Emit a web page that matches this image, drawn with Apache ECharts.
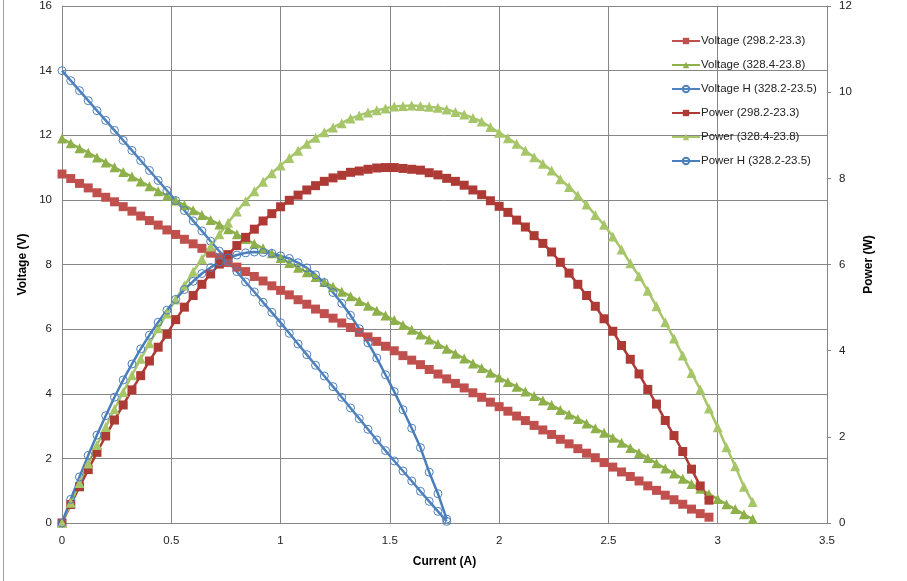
<!DOCTYPE html>
<html>
<head>
<meta charset="utf-8">
<script src="https://cdn.jsdelivr.net/npm/echarts@6/dist/echarts.min.js"></script>
<style>
html,body{margin:0;padding:0;background:#fff;}
#chart{width:907px;height:581px;}
</style>
</head>
<body>
<div id="chart"></div>
<script>
// ---- Data ----
var currentA = [0,0.04,0.08,0.12,0.16,0.20,0.24,0.28,0.32,0.36,0.40,0.44,0.48,0.52,0.56,0.60,0.64,0.68,0.72,0.76,0.80,0.84,0.88,0.92,0.96,1.00,1.04,1.08,1.12,1.16,1.20,1.24,1.28,1.32,1.36,1.40,1.44,1.48,1.52,1.56,1.60,1.64,1.68,1.72,1.76,1.80,1.84,1.88,1.92,1.96,2.00,2.04,2.08,2.12,2.16,2.20,2.24,2.28,2.32,2.36,2.40,2.44,2.48,2.52,2.56,2.60,2.64,2.68,2.72,2.76,2.80,2.84,2.88,2.92,2.96];
var voltageA = [10.80,10.66,10.51,10.37,10.22,10.08,9.94,9.79,9.65,9.50,9.36,9.22,9.07,8.93,8.78,8.64,8.50,8.35,8.21,8.06,7.92,7.78,7.63,7.49,7.34,7.20,7.06,6.91,6.77,6.62,6.48,6.34,6.19,6.05,5.90,5.76,5.62,5.47,5.33,5.18,5.04,4.90,4.75,4.61,4.46,4.32,4.18,4.03,3.89,3.74,3.60,3.46,3.31,3.17,3.02,2.88,2.74,2.59,2.45,2.30,2.16,2.02,1.87,1.73,1.58,1.44,1.30,1.15,1.01,0.86,0.72,0.58,0.43,0.29,0.18];
var powerA = [0,0.43,0.84,1.24,1.64,2.02,2.39,2.74,3.09,3.42,3.76,4.08,4.38,4.72,5.01,5.28,5.54,5.78,6.01,6.23,6.44,6.63,6.82,7.01,7.18,7.34,7.49,7.61,7.73,7.83,7.93,8.01,8.07,8.14,8.17,8.21,8.24,8.25,8.25,8.23,8.21,8.19,8.13,8.08,8.00,7.93,7.84,7.73,7.62,7.48,7.35,7.21,7.03,6.87,6.67,6.49,6.29,6.05,5.80,5.54,5.28,5.03,4.74,4.45,4.12,3.80,3.46,3.10,2.76,2.38,2.03,1.66,1.25,0.86,0.53];

var currentB = [0,0.04,0.08,0.12,0.16,0.20,0.24,0.28,0.32,0.36,0.40,0.44,0.48,0.52,0.56,0.60,0.64,0.68,0.72,0.76,0.80,0.84,0.88,0.92,0.96,1.00,1.04,1.08,1.12,1.16,1.20,1.24,1.28,1.32,1.36,1.40,1.44,1.48,1.52,1.56,1.60,1.64,1.68,1.72,1.76,1.80,1.84,1.88,1.92,1.96,2.00,2.04,2.08,2.12,2.16,2.20,2.24,2.28,2.32,2.36,2.40,2.44,2.48,2.52,2.56,2.60,2.64,2.68,2.72,2.76,2.80,2.84,2.88,2.92,2.96,3.00,3.04,3.08,3.12,3.16];
var voltageB = [11.90,11.75,11.60,11.46,11.31,11.16,11.01,10.86,10.72,10.57,10.42,10.27,10.12,9.98,9.83,9.68,9.53,9.38,9.24,9.09,8.94,8.79,8.64,8.50,8.35,8.20,8.05,7.90,7.76,7.61,7.46,7.31,7.16,7.02,6.87,6.72,6.57,6.42,6.28,6.13,5.98,5.83,5.68,5.54,5.39,5.24,5.09,4.94,4.80,4.65,4.50,4.36,4.22,4.07,3.93,3.79,3.65,3.50,3.36,3.22,3.08,2.93,2.79,2.64,2.48,2.32,2.17,2.01,1.85,1.69,1.53,1.37,1.21,1.06,0.90,0.74,0.58,0.43,0.27,0.12];
var powerB = [0,0.47,0.93,1.38,1.81,2.23,2.64,3.04,3.43,3.81,4.17,4.52,4.86,5.19,5.51,5.83,6.13,6.42,6.70,6.97,7.23,7.47,7.70,7.92,8.12,8.30,8.47,8.64,8.80,8.94,9.07,9.18,9.28,9.39,9.46,9.53,9.58,9.62,9.67,9.68,9.69,9.68,9.66,9.64,9.60,9.54,9.48,9.40,9.32,9.19,9.06,8.93,8.80,8.64,8.49,8.34,8.18,7.98,7.80,7.60,7.39,7.15,6.92,6.65,6.35,6.03,5.73,5.39,5.03,4.66,4.28,3.89,3.48,3.10,2.66,2.22,1.76,1.32,0.84,0.49];

var currentH = [0,0.04,0.08,0.12,0.16,0.20,0.24,0.28,0.32,0.36,0.40,0.44,0.48,0.52,0.56,0.60,0.64,0.68,0.72,0.76,0.80,0.84,0.88,0.92,0.96,1.00,1.04,1.08,1.12,1.16,1.20,1.24,1.28,1.32,1.36,1.40,1.44,1.48,1.52,1.56,1.60,1.64,1.68,1.72,1.76];
var voltageH = [14.00,13.69,13.38,13.07,12.76,12.46,12.15,11.84,11.53,11.22,10.91,10.60,10.29,9.98,9.67,9.35,9.04,8.72,8.41,8.09,7.78,7.46,7.15,6.83,6.52,6.20,5.87,5.54,5.21,4.88,4.55,4.22,3.89,3.56,3.23,2.90,2.57,2.24,1.92,1.61,1.30,0.98,0.67,0.36,0.05];
var powerH = [0,0.55,1.07,1.57,2.04,2.49,2.92,3.32,3.69,4.04,4.36,4.66,4.94,5.19,5.42,5.61,5.79,5.93,6.06,6.15,6.22,6.27,6.29,6.28,6.26,6.20,6.14,6.04,5.92,5.76,5.58,5.35,5.10,4.82,4.51,4.18,3.83,3.44,3.05,2.63,2.20,1.75,1.18,0.68,0.09];

var seriesNames = ['Voltage (298.2-23.3)','Voltage (328.4-23.8)','Voltage H (328.2-23.5)','Power (298.2-23.3)','Power (328.4-23.8)','Power H (328.2-23.5)'];
var xTicks = [0,0.5,1,1.5,2,2.5,3,3.5];

function pairs(xs, ys){ var out=[]; for(var i=0;i<xs.length;i++){ out.push([xs[i], ys[i]]); } return out; }

var FONT = 'Liberation Sans';
var GRID = '#868686';

function mk(name, xs, ys, axis, color, symbol, size, hollow){
  return {
    name: name, type: 'line', yAxisIndex: axis,
    data: pairs(xs, ys),
    symbol: symbol, symbolSize: size,
    showSymbol: true,
    lineStyle: {color: color, width: 2.5},
    itemStyle: hollow ? {color: 'rgba(255,255,255,0)', borderColor: color, borderWidth: 1} : {color: color},
    emphasis: {disabled: true},
    animation: false
  };
}

var chart = echarts.init(document.getElementById('chart'), null, {renderer: 'canvas'});
chart.setOption({
  animation: false,
  backgroundColor: '#ffffff',
  textStyle: {fontFamily: FONT},
  grid: {left: 62, right: 80, top: 6, bottom: 58, containLabel: false},
  graphic: [
    {type: 'rect', left: 1, top: -5, shape: {width: 905, height: 595}, style: {fill: 'none', stroke: '#a0a0a0', lineWidth: 1}, silent: true}
  ],
  legend: {
    orient: 'vertical', left: 666, top: 30,
    itemWidth: 28, itemHeight: 8, itemGap: 12,
    data: seriesNames,
    textStyle: {fontFamily: FONT, fontSize: 11.5, color: '#222', padding: [0,0,0,-4]},
    selectedMode: false
  },
  xAxis: {
    type: 'value', min: 0, max: 3.5, interval: 0.5,
    name: 'Current (A)', nameLocation: 'middle', nameGap: 33,
    nameTextStyle: {fontFamily: FONT, fontWeight: 'bold', fontSize: 12, color: '#000'},
    axisLine: {show: true, lineStyle: {color: GRID}},
    axisTick: {show: false},
    axisLabel: {margin: 12, fontSize: 11.5, color: '#222', fontFamily: FONT,
      customValues: xTicks},
    splitLine: {show: true, lineStyle: {color: GRID, width: 1}}
  },
  yAxis: [
    {
      type: 'value', min: 0, max: 16, interval: 2, position: 'left',
      name: 'Voltage (V)', nameLocation: 'middle', nameGap: 33, nameRotate: 90,
      nameTextStyle: {fontFamily: FONT, fontWeight: 'bold', fontSize: 12, color: '#000'},
      axisLine: {show: true, lineStyle: {color: GRID}},
      axisTick: {show: false},
      axisLabel: {margin: 10, fontSize: 11.5, color: '#222', fontFamily: FONT},
      splitLine: {show: true, lineStyle: {color: GRID, width: 1}}
    },
    {
      type: 'value', min: 0, max: 12, interval: 2, position: 'right',
      name: 'Power (W)', nameLocation: 'middle', nameGap: 31, nameRotate: 90,
      nameTextStyle: {fontFamily: FONT, fontWeight: 'bold', fontSize: 12, color: '#000'},
      axisLine: {show: true, lineStyle: {color: GRID}},
      axisTick: {show: true, inside: false, length: 4, lineStyle: {color: GRID}},
      axisLabel: {margin: 12, fontSize: 11.5, color: '#222', fontFamily: FONT},
      splitLine: {show: false}
    }
  ],
  series: [
    mk(seriesNames[0], currentA, voltageA, 0, '#C0504D', 'rect', 9, false),
    mk(seriesNames[1], currentB, voltageB, 0, '#8EB04A', 'triangle', 10, false),
    mk(seriesNames[2], currentH, voltageH, 0, '#4F81BD', 'circle', 8, true),
    mk(seriesNames[3], currentA, powerA, 1, '#AE3A36', 'rect', 9, false),
    mk(seriesNames[4], currentB, powerB, 1, '#A7C66A', 'triangle', 10, false),
    mk(seriesNames[5], currentH, powerH, 1, '#4A7EBB', 'circle', 8, true)
  ]
});
</script>
</body>
</html>
